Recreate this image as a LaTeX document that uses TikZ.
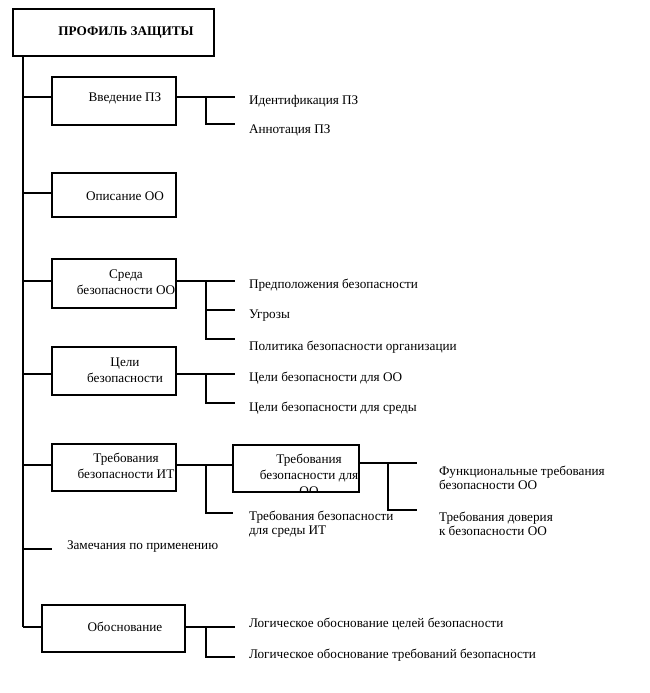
\documentclass[tikz,border=0pt]{standalone}
\usepackage{fontspec}
\setmainfont{Liberation Serif}
\begin{document}
\begin{tikzpicture}[x=1pt,y=-1pt,line width=2pt,line join=miter,
  box/.style={draw,line width=2pt,inner sep=0pt,outer sep=0pt,anchor=north west},
  txt/.style={font=\fontsize{13.2}{16}\selectfont,inner sep=0pt,align=center},
  leaf/.style={font=\fontsize{13.2}{14.5}\selectfont,inner sep=0pt,anchor=west,align=left}]
\useasboundingbox (0,0) rectangle (649,693);
% boxes
\node[box,minimum width=201,minimum height=47] (top) at (13,9) {};
\node[txt,font=\fontsize{13.2}{16}\selectfont\bfseries] (topt) at (126,33) {ПРОФИЛЬ ЗАЩИТЫ};
\node[box,minimum width=124,minimum height=48] (b1) at (52,77) {};
\node[txt] (b1t) at (125,98) {Введение ПЗ};
\node[box,minimum width=124,minimum height=44] (b2) at (52,173) {};
\node[txt] (b2t) at (125,196) {Описание ОО};
\node[box,minimum width=124,minimum height=49] (b3) at (52,259) {};
\node[txt] (b3t) at (126,282) {Среда\\безопасности ОО};
\node[box,minimum width=124,minimum height=48] (b4) at (52,347) {};
\node[txt] (b4t) at (125,370) {Цели\\безопасности};
\node[box,minimum width=124,minimum height=47] (b5) at (52,444) {};
\node[txt] (b5t) at (126,466) {Требования\\безопасности ИТ};
\begin{scope}
\clip (233,445) rectangle (359,492);
\node[txt] (b6t) at (309,475) {Требования\\безопасности для\\ОО};
\end{scope}
\node[box,minimum width=126,minimum height=47] (b6) at (233,445) {};
\node[box,minimum width=143,minimum height=47] (b7) at (42,605) {};
\node[txt] (b7t) at (125,627) {Обоснование};
% leaf texts
\node[leaf] (l11) at (248,101) {Идентификация ПЗ};
\node[leaf] (l12) at (248,130) {Аннотация ПЗ};
\node[leaf] (l31) at (248,285) {Предположения безопасности};
\node[leaf] (l32) at (248,316) {Угрозы};
\node[leaf] (l33) at (248,347) {Политика безопасности организации};
\node[leaf] (l41) at (248,378) {Цели безопасности для ОО};
\node[leaf] (l42) at (248,408) {Цели безопасности для среды};
\node[leaf] (l52) at (248,524) {Требования безопасности\\для среды ИТ};
\node[leaf] (l61) at (438,478) {Функциональные требования\\безопасности ОО};
\node[leaf] (l62) at (438,524) {Требования доверия\\к безопасности ОО};
\node[leaf] (zam) at (66,547) {Замечания по применению};
\node[leaf] (l71) at (248,624) {Логическое обоснование целей безопасности};
\node[leaf] (l72) at (248,655) {Логическое обоснование требований безопасности};
% helper coordinates
\coordinate (tr) at (23,0);
\coordinate (jx) at (206,0);
\coordinate (jy) at (388,0);
\coordinate (t11) at (235,97);
\coordinate (t12) at (235,124);
\coordinate (t2) at (23,193);
\coordinate (t31) at (235,281);
\coordinate (t32) at (235,310);
\coordinate (t33) at (235,339);
\coordinate (t41) at (235,374);
\coordinate (t42) at (235,403);
\coordinate (t51) at (233,465);
\coordinate (t52) at (233,513);
\coordinate (t61) at (417,463);
\coordinate (t62) at (417,510);
\coordinate (tz) at (52,549);
\coordinate (t71) at (235,627);
\coordinate (t72) at (235,657);
% trunk
\draw (top.south -| tr) -- (t71 -| tr);
\draw (t11 -| tr) -- (t11 -| b1.west);
\draw (t2) -- (t2 -| b2.west);
\draw (t31 -| tr) -- (t31 -| b3.west);
\draw (t41 -| tr) -- (t41 -| b4.west);
\draw (t51 -| tr) -- (t51 -| b5.west);
\draw (tz -| tr) -- (tz);
\draw (t71 -| tr) -- (t71 -| b7.west);
% groups
\draw (t11 -| b1.east) -- (t11);
\draw (t11 -| jx) |- (t12);
\draw (t31 -| b3.east) -- (t31);
\draw (t31 -| jx) |- (t33);
\draw (t32 -| jx) -- (t32);
\draw (t41 -| b4.east) -- (t41);
\draw (t41 -| jx) |- (t42);
\draw (t51 -| b5.east) -- (t51 -| b6.west);
\draw (t51 -| jx) |- (t52);
\draw (t61 -| b6.east) -- (t61);
\draw (t61 -| jy) |- (t62);
\draw (t71 -| b7.east) -- (t71);
\draw (t71 -| jx) |- (t72);
\end{tikzpicture}
\end{document}
